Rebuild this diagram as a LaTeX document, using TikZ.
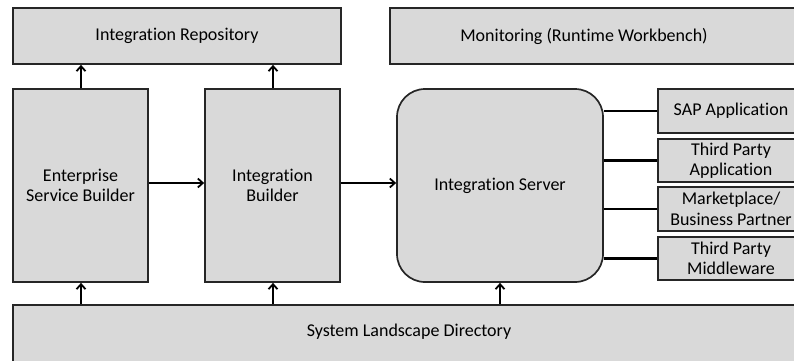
\documentclass[tikz,border=0pt]{standalone}
\usepackage{fontspec}
\setmainfont[Ligatures=NoCommon]{Carlito}
\usetikzlibrary{arrows.meta}
\begin{document}
\begin{tikzpicture}[x=1pt,y=-1pt,
  box/.style={draw=black!85,line width=1.7pt,fill=gray!30,inner sep=0pt,align=center,
    font=\fontsize{18}{20.5}\selectfont},
  lbl/.style={font=\fontsize{18}{20.5}\selectfont,inner sep=0pt},
  arr/.style={line width=2.2pt,-{Straight Barb[length=5pt,width=9pt,line width=1.8pt]}},
  link/.style={line width=2.2pt}]
\useasboundingbox (0,0) rectangle (794,360);
\clip (0,0) rectangle (794,360);
\node[box,minimum width=328,minimum height=56] (repo) at (177,36) {Integration Repository};
\node[box,minimum width=420,minimum height=56] (mon) at (600,36) {};
\node[lbl] (montext) at (584,36) {Monitoring (Runtime Workbench)};
\node[box,minimum width=135,minimum height=193] (esb) at (80.5,185.5) {Enterprise\\Service Builder};
\node[box,minimum width=135,minimum height=193] (ib) at (272.5,185.5) {Integration\\Builder};
\node[box,minimum width=206,minimum height=193,rounded corners=28] (is) at (500,185.5) {Integration Server};
\node[box,minimum width=146,minimum height=44] (sap) at (731,111) {SAP Application};
\node[box,minimum width=146,minimum height=43] (tpa) at (731,160.5) {Third Party\\Application};
\node[box,minimum width=146,minimum height=44] (mkt) at (731,209) {Marketplace/\\Business Partner};
\node[box,minimum width=146,minimum height=43] (tpm) at (731,258.5) {Third Party\\Middleware};
\node[box,minimum width=800,minimum height=60] (sld) at (413,335) {};
\node[lbl] (sldtext) at (409,332) {System Landscape Directory};
\draw[arr] (esb.north -| 81,0) -- (repo.south -| 81,0);
\draw[arr] (ib.north -| 273,0) -- (repo.south -| 273,0);
\draw[arr] (esb.east |- 0,183) -- (ib.west |- 0,183);
\draw[arr] (ib.east |- 0,183) -- (is.west |- 0,183);
\draw[arr] (sld.north -| 81,0) -- (esb.south -| 81,0);
\draw[arr] (sld.north -| 273,0) -- (ib.south -| 273,0);
\draw[arr] (sld.north -| 500,0) -- (is.south -| 500,0);
\draw[link] (is.east |- sap.west) -- (sap.west);
\draw[link] (is.east |- tpa.west) -- (tpa.west);
\draw[link] (is.east |- mkt.west) -- (mkt.west);
\draw[link] (is.east |- tpm.west) -- (tpm.west);
\end{tikzpicture}
\end{document}
